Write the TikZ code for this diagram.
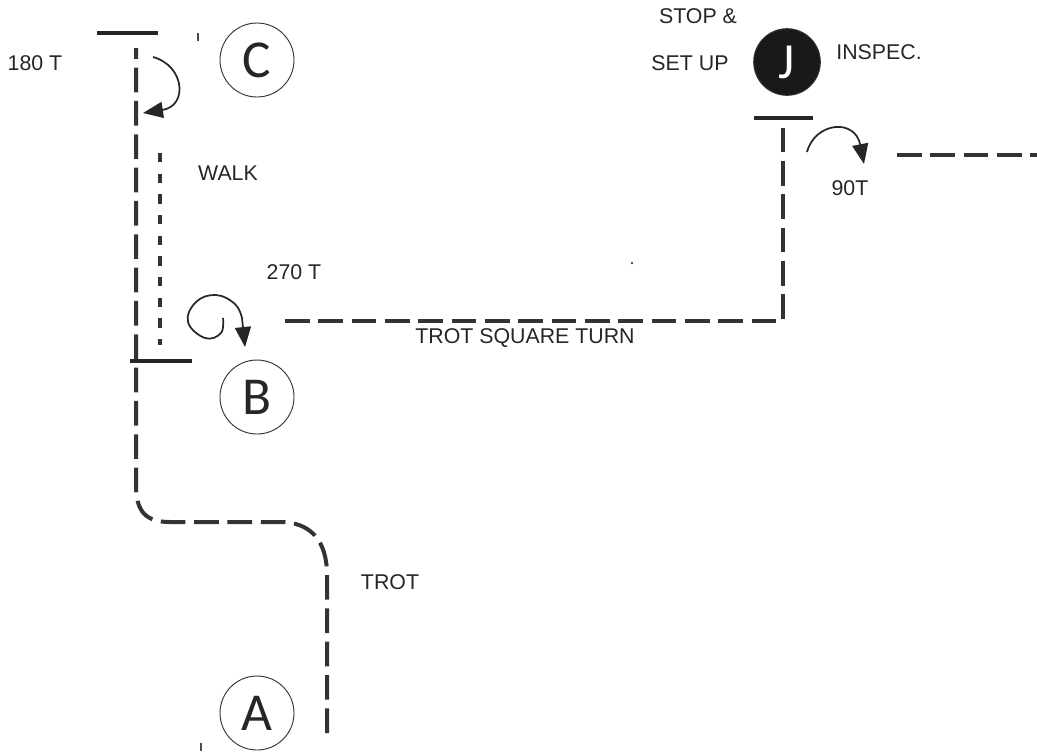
\documentclass[tikz,border=0pt]{standalone}
\usepackage{fontspec}
\setmainfont{Liberation Sans}
\newfontfamily\circfont{Carlito}
\usetikzlibrary{arrows.meta}
\begin{document}
\begin{tikzpicture}[x=0.75pt,y=-0.75pt,
  trotline/.style={line width=3pt,dash pattern=on 18.5pt off 6.5pt, black!80},
  walkline/.style={line width=3pt,dash pattern=on 7pt off 8.5pt, black!80},
  bar/.style={line width=2.4pt, black!85},
  turnarrow/.style={line width=1.3pt, black!85, -{Triangle[length=15pt,width=12pt]}},
  letter/.style={circle, draw=black!80, line width=0.7pt, minimum size=55.5pt, inner sep=0pt, font=\circfont\fontsize{40}{40}\selectfont, text=black!85},
  lbl/.style={font=\fontsize{16}{16}\selectfont, text=black!85, inner sep=0pt},
  speck/.style={line width=1pt, black!70}
]
\useasboundingbox (0,0) rectangle (1037,751);

% letter circles
\node[letter] (C) at (257,60) {C};
\node[letter] (B) at (257,397) {B};
\node[letter] (A) at (257,713) {A};
\node[letter, fill=black!90, text=white, minimum size=50pt, font=\circfont\fontsize{38}{38}\selectfont] (J) at (787,62) {J};

% labels
\node[lbl] (t180) at (35,63) {180 T};
\node[lbl] (twalk) at (228,173) {WALK};
\node[lbl] (t270) at (294,272) {270 T};
\node[lbl] (tsq) at (525,338) {TROT SQUARE TURN};
\node[lbl] (ttrot) at (390,582) {TROT};
\node[lbl] (tstop) at (698,16) {STOP \&};
\node[lbl] (tset) at (690,63) {SET UP};
\node[lbl] (tinsp) at (879,52) {INSPEC.};
\node[lbl] (t90) at (850,188) {90T};

% bars
\coordinate (cbarL) at (97,33);  \coordinate (cbarR) at (158,33);
\coordinate (bbarL) at (130,361); \coordinate (bbarR) at (192,361);
\coordinate (jbarL) at (754,118); \coordinate (jbarR) at (813,118);
\draw[bar] (cbarL) -- (cbarR);
\draw[bar] (bbarL) -- (bbarR);
\draw[bar] (jbarL) -- (jbarR);

% main trot path from A up to C
\coordinate (pA) at (327,733);
\coordinate (pC) at (136,48);
\draw[trotline] (pA) -- (327,575) .. controls (327,540) and (310,522) .. (280,522)
  -- (170,522) .. controls (146,522) and (136,512) .. (136,485) -- (pC);

% walk
\coordinate (w1) at (160,153); \coordinate (w2) at (160,345);
\draw[walkline] (w1) -- (w2);

% trot square turn
\coordinate (s1) at (285,321); \coordinate (s2) at (783,321); \coordinate (s3) at (783,128);
\draw[trotline] (s1) -- (s2) -- (s3);

% exit line
\coordinate (e1) at (897,155); \coordinate (e2) at (1037,155);
\draw[trotline] (e1) -- (e2);

% turn arrows
\draw[turnarrow] (153,57) .. controls (185,66) and (188,106) .. (143,113);
\draw[turnarrow] plot[smooth, tension=0.7] coordinates {(223,318) (221,333) (205,338) (188,322) (196,302) (216,295) (235,304) (242,318)} -- (245,347);
\draw[turnarrow] (807,152) .. controls (815,122) and (855,118) .. (864,164);

% specks
\draw[speck] (198,33) -- (198,41);
\draw[speck] (201,743) -- (201,751);
\fill[black!70] (632,263) circle (1pt);
\end{tikzpicture}
\end{document}
